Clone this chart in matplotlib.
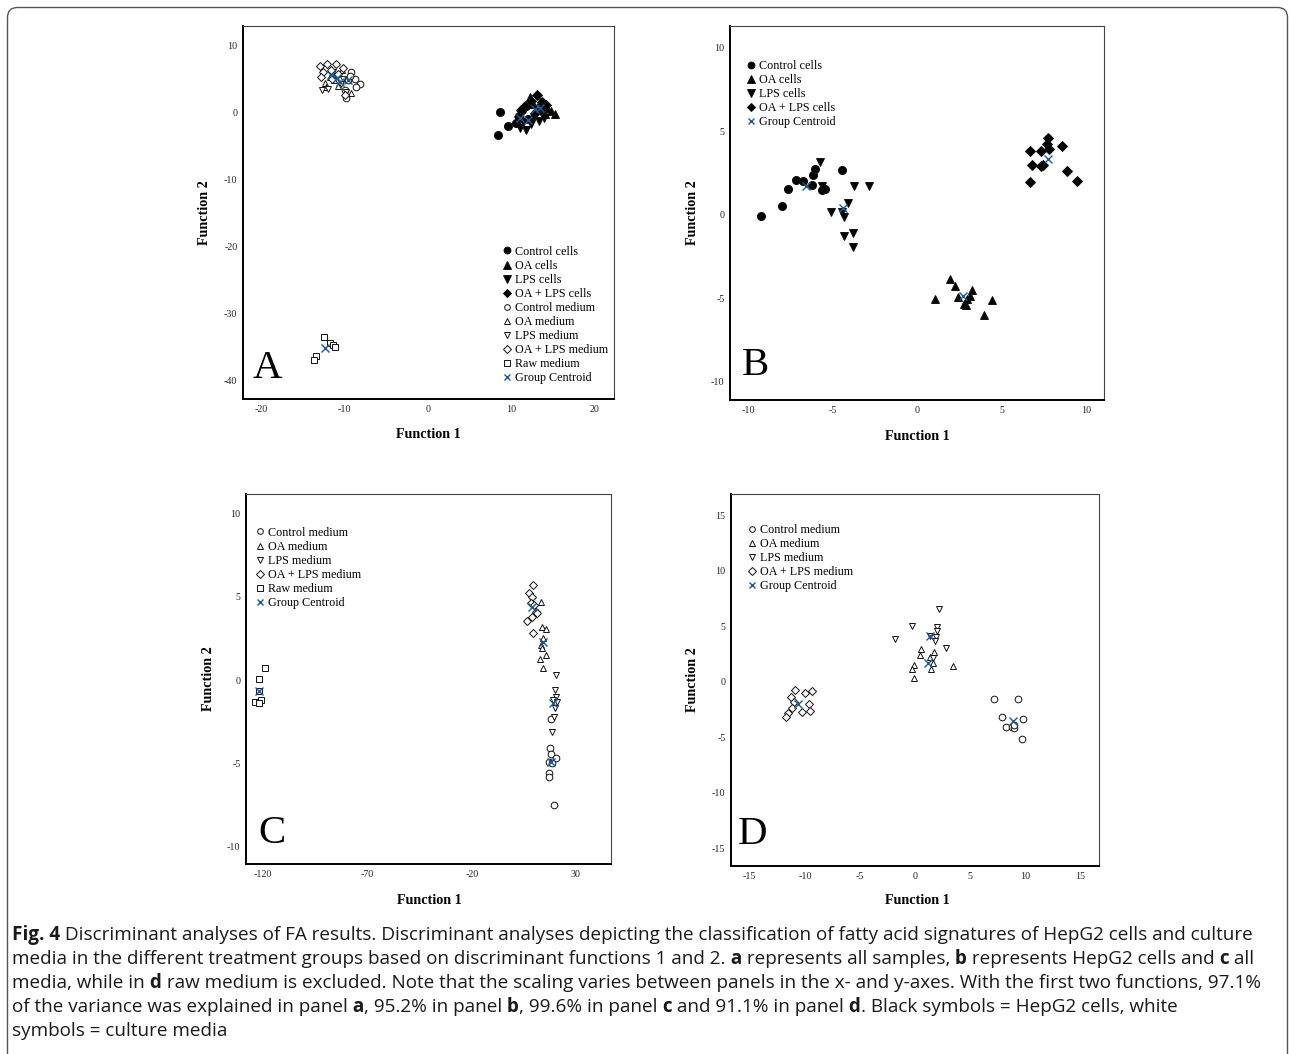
import matplotlib
matplotlib.use("Agg")
import matplotlib.pyplot as plt
from matplotlib.lines import Line2D
from matplotlib.patches import FancyBboxPatch
from matplotlib.transforms import IdentityTransform

W, H, DPI = 1290, 1054, 100
SERIF = ["Liberation Serif", "DejaVu Serif"]
SANS = ["Open Sans", "DejaVu Sans"]
CENTROID_COLOR = "#1f5a96"

plt.rcParams["font.family"] = SERIF
plt.rcParams["axes.unicode_minus"] = False

# ---- panel A: all samples ----
a_ctrl_cells = [(8.6, 0.0), (9.6, -2.0), (8.4, -3.4), (10.9, -0.6), (11.3, 0.4), (10.5, -1.6), (12.0, -1.0), (11.7, 0.9)]
a_oa_cells = [(12.2, 2.3), (13.4, 1.6), (14.3, 0.7), (15.2, -0.2), (13.0, 0.5), (14.0, -0.3), (12.6, 1.2), (14.7, 0.2)]
a_lps_cells = [(11.0, -2.3), (11.7, -2.7), (12.4, -1.8), (10.8, -1.1), (12.7, -0.7), (13.3, -1.3), (11.4, -1.5), (13.9, -0.9)]
a_oalps_cells = [(13.1, 2.6), (12.3, 1.7), (13.7, 1.5), (11.6, 0.9), (14.1, 1.1), (12.9, 0.1), (11.2, 0.3), (13.5, 0.4)]
a_ctrl_med = [(-9.6, 4.8), (-8.2, 4.2), (-9.2, 6.1), (-9.8, 2.2), (-8.8, 5.0), (-9.4, 5.5), (-10.0, 3.4), (-8.6, 3.8)]
a_oa_med = [(-12.4, 4.4), (-11.8, 5.3), (-12.2, 3.8), (-10.8, 4.0), (-9.2, 2.9), (-11.3, 4.8), (-10.3, 6.3)]
a_lps_med = [(-12.7, 3.4), (-12.0, 3.5), (-11.0, 5.5), (-10.5, 4.2), (-9.9, 3.0), (-10.2, 5.0), (-11.4, 6.0)]
a_oalps_med = [(-13.0, 7.0), (-12.1, 7.2), (-11.0, 7.3), (-12.6, 6.1), (-11.7, 6.4), (-10.8, 5.8),
               (-12.9, 5.3), (-11.5, 5.0), (-10.2, 6.6), (-10.0, 2.6)]
a_raw_med = [(-12.45, -33.6), (-11.8, -34.4), (-11.4, -34.7), (-11.2, -35.0), (-13.4, -36.4), (-13.65, -37.0)]
a_centroids = [(-11.6, 5.6), (-10.6, 4.6), (-9.6, 4.8), (-10.9, 5.2),
               (11.0, -0.9), (12.0, -1.15), (12.8, 0.45), (13.4, 0.6), (-12.4, -35.2)]

# ---- panel B: HepG2 cells ----
b_ctrl_cells = [(-9.25, -0.1), (-7.97, 0.5), (-7.61, 1.54), (-7.16, 2.1), (-6.76, 2.0), (-6.23, 1.8),
                (-6.17, 2.4), (-6.04, 2.74), (-5.64, 1.5), (-5.44, 1.56), (-4.46, 2.66)]
b_oa_cells = [(1.05, -5.06), (1.95, -3.86), (2.25, -4.3), (2.45, -4.96), (2.9, -5.4), (3.14, -4.86),
              (3.24, -4.54), (2.98, -5.06), (3.98, -6.0), (4.46, -5.1), (2.8, -5.34)]
b_lps_cells = [(-5.74, 3.14), (-5.64, 1.7), (-3.73, 1.7), (-2.84, 1.74), (-5.09, 0.14), (-4.42, 0.14),
               (-4.06, 0.7), (-4.32, -0.14), (-4.30, -1.26), (-3.80, -1.1), (-3.77, -1.94)]
b_oalps_cells = [(6.69, 3.8), (7.34, 3.84), (7.73, 4.6), (7.67, 4.26), (7.83, 3.94), (8.6, 4.1),
                 (6.79, 3.0), (7.32, 2.94), (7.47, 2.96), (6.69, 1.96), (8.86, 2.64), (9.45, 2.02)]
b_centroids = [(-6.59, 1.7), (2.74, -4.9), (-4.36, 0.4), (7.73, 3.34)]

# ---- panel C: all media ----
c_ctrl_med = [(17.8, -2.36), (17.5, -4.1), (17.8, -4.44), (20.2, -4.7), (17.0, -4.9), (18.6, -5.0),
              (17.0, -5.6), (17.0, -5.8), (19.4, -7.5)]
c_oa_med = [(13.0, 4.7), (13.8, 3.2), (15.4, 3.04), (13.0, 2.1), (13.8, 1.9), (12.7, 1.24),
            (15.4, 1.5), (14.3, 0.7), (14.0, 2.5)]
c_lps_med = [(20.2, 0.3), (19.9, -0.6), (20.5, -1.0), (18.9, -1.2), (19.9, -1.7), (19.4, -2.2),
             (18.6, -3.1), (20.7, -1.3)]
c_oalps_med = [(9.35, 5.7), (7.45, 5.24), (9.0, 5.0), (8.26, 4.6), (10.6, 4.1), (6.6, 3.56),
               (8.7, 3.8), (9.35, 2.8), (11.4, 4.0), (9.8, 4.5)]
c_raw_med = [(-119.0, 0.7), (-122.2, 0.06), (-122.2, -0.66), (-121.0, -1.2), (-123.8, -1.3), (-122.2, -1.4)]
c_centroids = [(17.8, -4.9), (14.1, 2.3), (18.9, -1.4), (8.7, 4.4), (-122.2, -0.66)]

# ---- panel D: media without raw medium ----
d_ctrl_med = [(7.16, -1.56), (9.36, -1.59), (7.85, -3.15), (8.24, -4.05), (9.8, -3.39), (8.76, -4.1),
              (8.97, -4.2), (9.0, -3.9), (9.66, -5.16)]
d_oa_med = [(0.5, 2.9), (0.45, 2.4), (1.72, 2.7), (-0.15, 1.5), (-0.27, 1.1), (-0.09, 0.36),
            (1.42, 1.1), (1.66, 1.66), (3.47, 1.4), (1.3, 2.2)]
d_lps_med = [(2.2, 6.5), (-0.3, 5.0), (-1.8, 3.8), (2.0, 4.95), (1.96, 4.6), (1.9, 4.05),
             (1.8, 3.7), (2.8, 3.0), (1.36, 4.1), (1.66, 2.1)]
d_oalps_med = [(-10.93, -0.75), (-11.3, -1.35), (-9.96, -0.99), (-9.36, -0.84), (-11.0, -1.8), (-9.6, -2.04),
               (-10.26, -2.7), (-9.57, -2.64), (-11.17, -2.4), (-11.57, -2.8), (-11.7, -3.15)]
d_centroids = [(8.9, -3.54), (1.2, 1.7), (1.3, 4.15), (-10.6, -2.0)]

CAPTION = [
    [("Fig. 4", True), (" Discriminant analyses of FA results. Discriminant analyses depicting the classification "
                        "of fatty acid signatures of HepG2 cells and culture", False)],
    [("media in the different treatment groups based on discriminant functions 1 and 2.", False), (" a", True),
     (" represents all samples,", False), (" b", True), (" represents HepG2 cells and", False), (" c", True),
     (" all", False)],
    [("media, while in", False), (" d", True), (" raw medium is excluded. Note that the scaling varies between "
                                               "panels in the x- and y-axes. With the first two functions, 97.1%", False)],
    [("of the variance was explained in panel", False), (" a", True), (", 95.2% in panel", False), (" b", True),
     (", 99.6% in panel", False), (" c", True), (" and 91.1% in panel", False), (" d", True),
     (". Black symbols = HepG2 cells, white", False)],
    [("symbols = culture media", False)],
]
# right end of each caption line in the reference, pixels
caption_ends = [1228, 1246, 1279, 1199]

GROUP_STYLE = {
    "Control cells": dict(marker="o", mfc="black", ms=5.8),
    "OA cells": dict(marker="^", mfc="black", ms=6.0),
    "LPS cells": dict(marker="v", mfc="black", ms=6.0),
    "OA + LPS cells": dict(marker="D", mfc="black", ms=5.0),
    "Control medium": dict(marker="o", mfc="white", ms=4.8),
    "OA medium": dict(marker="^", mfc="white", ms=5.0),
    "LPS medium": dict(marker="v", mfc="white", ms=5.0),
    "OA + LPS medium": dict(marker="D", mfc="white", ms=4.4),
    "Raw medium": dict(marker="s", mfc="white", ms=4.6),
}


def px_rect(left, top, right, bottom):
    return [left / W, 1 - bottom / H, (right - left) / W, (bottom - top) / H]


fig = plt.figure(figsize=(W / DPI, H / DPI), dpi=DPI)
overlay = fig.add_axes([0, 0, 1, 1], zorder=5)
overlay.set_xlim(0, W)
overlay.set_ylim(H, 0)
overlay.set_axis_off()


def draw_panel(rect, groups, centroids, xlim, ylim, xticks, yticks, letter, letter_xy,
               legend_xy, xlabel_xy, ylabel_xy):
    ax = fig.add_axes(px_rect(*rect))
    for label, pts in groups:
        st = GROUP_STYLE[label]
        xs, ys = zip(*pts)
        ax.plot(xs, ys, ls="none", marker=st["marker"], ms=st["ms"], mfc=st["mfc"],
                mec="#111111", mew=0.7, zorder=3)
    cx, cy = zip(*centroids)
    ax.plot(cx, cy, ls="none", marker="x", ms=5.2, mew=1.0, color=CENTROID_COLOR, zorder=4)

    ax.set_xlim(*xlim)
    ax.set_ylim(*ylim)
    ax.set_xticks(xticks)
    ax.set_yticks(yticks)
    ax.tick_params(length=0, pad=4, labelsize=7.2, colors="#222222")
    for side in ("left", "bottom"):
        ax.spines[side].set_linewidth(1.4)
        ax.spines[side].set_color("black")
    for side in ("top", "right"):
        ax.spines[side].set_linewidth(0.8)
        ax.spines[side].set_color("#444444")

    handles = []
    for label, _ in groups:
        st = GROUP_STYLE[label]
        handles.append(Line2D([], [], ls="none", marker=st["marker"], ms=st["ms"], mfc=st["mfc"],
                              mec="#111111", mew=0.7, label=label))
    handles.append(Line2D([], [], ls="none", marker="x", ms=5.2, mew=1.0, color=CENTROID_COLOR,
                          label="Group Centroid"))
    ax.legend(handles=handles, loc="upper left",
              bbox_to_anchor=(legend_xy[0] / W, 1 - legend_xy[1] / H), bbox_transform=fig.transFigure,
              frameon=False, borderpad=0, borderaxespad=0, handlelength=0.8, handletextpad=0.25,
              labelspacing=0.17, fontsize=8.75, markerscale=0.85, numpoints=1)

    overlay.text(letter_xy[0], letter_xy[1], letter, fontsize=29.4, ha="left", va="baseline")
    overlay.text(xlabel_xy[0], xlabel_xy[1], "Function 1", fontsize=10.2, fontweight="bold",
                 ha="center", va="center")
    overlay.text(ylabel_xy[0], ylabel_xy[1], "Function 2", fontsize=10.2, fontweight="bold",
                 ha="center", va="center", rotation=90)
    return ax


draw_panel((243, 26, 614, 399),
           [("Control cells", a_ctrl_cells), ("OA cells", a_oa_cells), ("LPS cells", a_lps_cells),
            ("OA + LPS cells", a_oalps_cells), ("Control medium", a_ctrl_med), ("OA medium", a_oa_med),
            ("LPS medium", a_lps_med), ("OA + LPS medium", a_oalps_med), ("Raw medium", a_raw_med)],
           a_centroids, (-22.2, 22.3), (-42.8, 12.9), [-20, -10, 0, 10, 20], [-40, -30, -20, -10, 0, 10],
           "A", (253, 378), (502, 245.7), (428, 435), (205, 212.5))

draw_panel((730, 26, 1104, 400),
           [("Control cells", b_ctrl_cells), ("OA cells", b_oa_cells), ("LPS cells", b_lps_cells),
            ("OA + LPS cells", b_oalps_cells)],
           b_centroids, (-11.07, 11.07), (-11.1, 11.3), [-10, -5, 0, 5, 10], [-10, -5, 0, 5, 10],
           "B", (742, 375), (746, 60), (917, 436), (693, 213))

draw_panel((246, 494, 611, 864),
           [("Control medium", c_ctrl_med), ("OA medium", c_oa_med), ("LPS medium", c_lps_med),
            ("OA + LPS medium", c_oalps_med), ("Raw medium", c_raw_med)],
           c_centroids, (-128.3, 46.8), (-11.04, 11.16), [-120, -70, -20, 30], [-10, -5, 0, 5, 10],
           "C", (258, 843), (255, 526.7), (429, 900), (208, 679))

draw_panel((731, 494, 1099, 866),
           [("Control medium", d_ctrl_med), ("OA medium", d_oa_med), ("LPS medium", d_lps_med),
            ("OA + LPS medium", d_oalps_med)],
           d_centroids, (-16.7, 16.67), (-16.6, 16.9), [-15, -10, -5, 0, 5, 10, 15],
           [-15, -10, -5, 0, 5, 10, 15],
           "D", (738, 844), (747, 524), (917, 901), (693, 680))

# caption: bold and regular pieces set one after the other on a shared baseline
renderer = fig.canvas.get_renderer()


def piece_widths(line, size):
    widths = []
    for text, bold in line:
        t = overlay.text(0, 0, text, fontsize=size, family=SANS,
                         fontweight="bold" if bold else "normal")
        widths.append(t.get_window_extent(renderer).width)
        t.remove()
    return widths


CAP_LEFT = 12
ratios = [(end - CAP_LEFT) / sum(piece_widths(line, 10)) for line, end in zip(CAPTION, caption_ends)]
cap_size = 10 * sum(ratios) / len(ratios)
cap_baselines = [940, 964, 988, 1012, 1036]
for line, y in zip(CAPTION, cap_baselines):
    x = CAP_LEFT
    for (text, bold), w in zip(line, piece_widths(line, cap_size)):
        overlay.text(x, y, text, fontsize=cap_size, family=SANS,
                     fontweight="bold" if bold else "normal", ha="left", va="baseline", color="#1a1a1a")
        x += w

# rounded frame round the whole figure, open at the bottom edge
frame = FancyBboxPatch((7.5, -30), 1280, H - 7.5 + 30, boxstyle="round,pad=0,rounding_size=10",
                       transform=IdentityTransform(), fill=False, ec="#555555", lw=1.0)
fig.add_artist(frame)

fig.savefig("out.png", dpi=DPI)
